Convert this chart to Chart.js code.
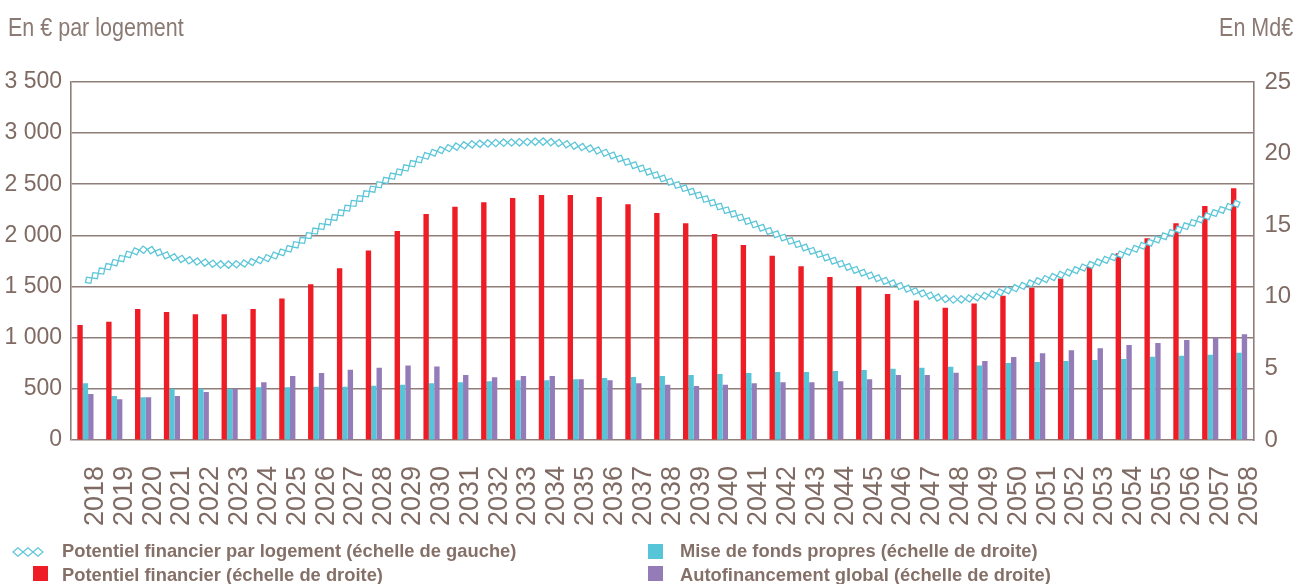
<!DOCTYPE html>
<html lang="fr">
<head>
<meta charset="utf-8">
<script src="https://cdn.jsdelivr.net/npm/chart.js@4.4.1/dist/chart.umd.min.js"></script>
<style>
  html, body { margin: 0; padding: 0; background: #fff; width: 1298px; height: 584px; overflow: hidden; }
  #wrap { position: relative; width: 1298px; height: 584px; }
  #chart { position: absolute; left: 0; top: 0; }
  .unit { position: absolute; top: 12px; font-family: 'Liberation Sans', Arial, sans-serif;
          font-size: 25px; line-height: 30px; color: #8b7a73; white-space: nowrap; }
  .unit.l { left: 8px; transform: scaleX(0.86); transform-origin: left center; }
  .unit.r { right: 5px; transform: scaleX(0.86); transform-origin: right center; }
  .leg { position: absolute; font-family: 'Liberation Sans', Arial, sans-serif; font-weight: bold;
         font-size: 19px; line-height: 22px; color: #857068; white-space: nowrap;
         transform: scaleX(0.965); transform-origin: left center; }
  .sw { position: absolute; width: 15px; height: 15px; }
</style>
</head>
<body>
<div id="wrap">
  <canvas id="chart" width="1298" height="584"></canvas>
  <div class="unit l">En € par logement</div>
  <div class="unit r">En Md€</div>

  <svg style="position:absolute;left:12px;top:546px;" width="34" height="12" viewBox="0 0 34 12">
    <g fill="#fff" stroke="#5cc6d8" stroke-width="1.2">
      <path d="M1 6 L6 1.8 L11 6 L6 10.2 Z"/>
      <path d="M11 6 L16 1.8 L21 6 L16 10.2 Z"/>
      <path d="M21 6 L26 1.8 L31 6 L26 10.2 Z"/>
    </g>
  </svg>
  <div class="leg" style="left:62px;top:540px;">Potentiel financier par logement (échelle de gauche)</div>
  <div class="sw" style="left:33px;top:566px;background:#ee1c25;"></div>
  <div class="leg" style="left:62px;top:564px;">Potentiel financier (échelle de droite)</div>

  <div class="sw" style="left:648px;top:544px;background:#56c5d8;"></div>
  <div class="leg" style="left:680px;top:540px;">Mise de fonds propres (échelle de droite)</div>
  <div class="sw" style="left:648px;top:566px;background:#937cb8;"></div>
  <div class="leg" style="left:680px;top:564px;">Autofinancement global (échelle de droite)</div>
</div>
<script>
// Years on the horizontal axis
const years = [];
for (let y = 2018; y <= 2058; y++) years.push(String(y));

// Potentiel financier par logement, € (left axis)
const potentielParLogement = [
  1540, 1730, 1860, 1790, 1740, 1715, 1755, 1860, 2050, 2250,
  2460, 2640, 2800, 2875, 2900, 2910, 2915, 2875, 2810, 2690,
  2560, 2430, 2280, 2135, 2005, 1875, 1745, 1630, 1530, 1435,
  1375, 1400, 1465, 1550, 1630, 1725, 1825, 1940, 2070, 2200,
  2320
];

// Potentiel financier, Md€ (right axis)
const potentielFinancier = [
  8.03, 8.26, 9.15, 8.94, 8.78, 8.78, 9.15, 9.89, 10.87, 11.99,
  13.24, 14.60, 15.78, 16.29, 16.60, 16.90, 17.11, 17.11, 16.97, 16.46,
  15.85, 15.13, 14.39, 13.62, 12.87, 12.13, 11.38, 10.73, 10.20, 9.75,
  9.24, 9.54, 10.08, 10.64, 11.27, 12.13, 13.04, 14.08, 15.13, 16.34,
  17.58
];

// Mise de fonds propres, Md€ (right axis)
const miseDeFonds = [
  3.96, 3.07, 2.98, 3.58, 3.58, 3.58, 3.68, 3.68, 3.72, 3.72,
  3.79, 3.86, 3.96, 4.03, 4.10, 4.17, 4.17, 4.24, 4.33, 4.40,
  4.47, 4.54, 4.61, 4.68, 4.75, 4.75, 4.82, 4.89, 4.98, 5.05,
  5.12, 5.21, 5.38, 5.45, 5.51, 5.59, 5.66, 5.82, 5.89, 5.96,
  6.10
];

// Autofinancement global, Md€ (right axis)
const autofinancement = [
  3.21, 2.84, 2.98, 3.07, 3.35, 3.58, 4.03, 4.47, 4.68, 4.91,
  5.05, 5.21, 5.14, 4.54, 4.38, 4.47, 4.47, 4.24, 4.17, 3.96,
  3.86, 3.77, 3.86, 3.96, 4.03, 4.03, 4.10, 4.24, 4.54, 4.54,
  4.70, 5.51, 5.80, 6.05, 6.26, 6.40, 6.63, 6.77, 6.98, 7.17,
  7.38
];

// Left axis ticks (€) and right axis ticks (Md€)
const leftTicks = [0, 500, 1000, 1500, 2000, 2500, 3000, 3500];
const rightTicks = [0, 5, 10, 15, 20, 25];

const BROWN = '#7f6b63';
const GRID = '#8f7e78';
const SANS = "'Liberation Sans', Arial, sans-serif";

function frNumber(v) {
  return String(v).replace(/\B(?=(\d{3})+(?!\d))/g, ' ');
}

// Draws the smoothed line as a chain of small diamonds, evenly spaced along the curve
const diamondChain = {
  id: 'diamondChain',
  afterDatasetsDraw(chart) {
    const meta = chart.getDatasetMeta(0);
    if (!meta || !meta.dataset) return;
    meta.dataset.updateControlPoints(chart.chartArea, 'x');
    const pts = meta.data;
    const poly = [];
    const steps = 40;
    for (let i = 0; i < pts.length - 1; i++) {
      const a = pts[i], b = pts[i + 1];
      const x0 = a.x, y0 = a.y;
      const x1 = a.cp2x !== undefined ? a.cp2x : a.x;
      const y1 = a.cp2y !== undefined ? a.cp2y : a.y;
      const x2 = b.cp1x !== undefined ? b.cp1x : b.x;
      const y2 = b.cp1y !== undefined ? b.cp1y : b.y;
      const x3 = b.x, y3 = b.y;
      for (let s = (i === 0 ? 0 : 1); s <= steps; s++) {
        const t = s / steps, u = 1 - t;
        poly.push({
          x: u*u*u*x0 + 3*u*u*t*x1 + 3*u*t*t*x2 + t*t*t*x3,
          y: u*u*u*y0 + 3*u*u*t*y1 + 3*u*t*t*y2 + t*t*t*y3
        });
      }
    }
    const cum = [0];
    for (let i = 1; i < poly.length; i++) {
      cum.push(cum[i-1] + Math.hypot(poly[i].x - poly[i-1].x, poly[i].y - poly[i-1].y));
    }
    const total = cum[cum.length - 1];
    const gap = 7.9, hx = 3.95, hy = 3.7;
    const ctx = chart.ctx;
    ctx.save();
    ctx.lineWidth = 1.3;
    ctx.strokeStyle = '#5cc6d8';
    ctx.fillStyle = '#ffffff';
    let j = 1;
    for (let d = gap / 2; d <= total; d += gap) {
      while (j < cum.length - 1 && cum[j] < d) j++;
      const seg = cum[j] - cum[j-1] || 1;
      const f = (d - cum[j-1]) / seg;
      const px = poly[j-1].x + f * (poly[j].x - poly[j-1].x);
      const py = poly[j-1].y + f * (poly[j].y - poly[j-1].y);
      const ang = Math.atan2(poly[j].y - poly[j-1].y, poly[j].x - poly[j-1].x);
      ctx.save();
      ctx.translate(px, py);
      ctx.rotate(ang);
      ctx.beginPath();
      ctx.moveTo(hx, 0);
      ctx.lineTo(0, hy);
      ctx.lineTo(-hx, 0);
      ctx.lineTo(0, -hy);
      ctx.closePath();
      ctx.fill();
      ctx.stroke();
      ctx.restore();
    }
    ctx.restore();
  }
};

new Chart(document.getElementById('chart'), {
  data: {
    labels: years,
    datasets: [
      {
        type: 'line',
        label: 'Potentiel financier par logement (échelle de gauche)',
        data: potentielParLogement,
        yAxisID: 'y',
        borderColor: 'rgba(0,0,0,0)',
        borderWidth: 1,
        pointRadius: 0,
        tension: 0.4,
        order: 0
      },
      {
        type: 'bar',
        label: 'Potentiel financier (échelle de droite)',
        data: potentielFinancier,
        yAxisID: 'y1',
        backgroundColor: '#ee1c25',
        order: 1
      },
      {
        type: 'bar',
        label: 'Mise de fonds propres (échelle de droite)',
        data: miseDeFonds,
        yAxisID: 'y1',
        backgroundColor: '#56c5d8',
        order: 1
      },
      {
        type: 'bar',
        label: 'Autofinancement global (échelle de droite)',
        data: autofinancement,
        yAxisID: 'y1',
        backgroundColor: '#937cb8',
        order: 1
      }
    ]
  },
  options: {
    responsive: false,
    animation: false,
    devicePixelRatio: 1,
    layout: { padding: { top: 82, left: 0, right: 0, bottom: 0 } },
    datasets: { bar: { categoryPercentage: 0.56, barPercentage: 1.0 } },
    plugins: { legend: { display: false }, tooltip: { enabled: false } },
    scales: {
      x: {
        type: 'category',
        offset: true,
        grid: { display: false, drawTicks: false },
        border: { display: false },
        ticks: {
          autoSkip: false, maxRotation: 90, minRotation: 90,
          labelOffset: 10, padding: 26,
          color: BROWN,
          font: { family: SANS, size: 27 }
        },
        afterFit(scale) { scale.height = 144; }
      },
      y: {
        position: 'left',
        min: 0, max: 3500,
        afterBuildTicks(scale) { scale.ticks = leftTicks.map(v => ({ value: v })); },
        grid: { color: GRID, lineWidth: 1.6, drawTicks: false },
        border: { display: true, color: GRID, width: 1.6 },
        ticks: {
          padding: 9, color: BROWN,
          font: { family: SANS, size: 23 },
          callback: (v) => frNumber(v)
        },
        afterFit(scale) { scale.width = 71; }
      },
      y1: {
        position: 'right',
        min: 0, max: 25,
        afterBuildTicks(scale) { scale.ticks = rightTicks.map(v => ({ value: v })); },
        grid: { drawOnChartArea: false, drawTicks: false },
        border: { display: true, color: GRID, width: 1.6 },
        ticks: {
          padding: 11, color: BROWN,
          font: { family: SANS, size: 24 }
        },
        afterFit(scale) { scale.width = 44; }
      }
    }
  },
  plugins: [diamondChain]
});
</script>
</body>
</html>
